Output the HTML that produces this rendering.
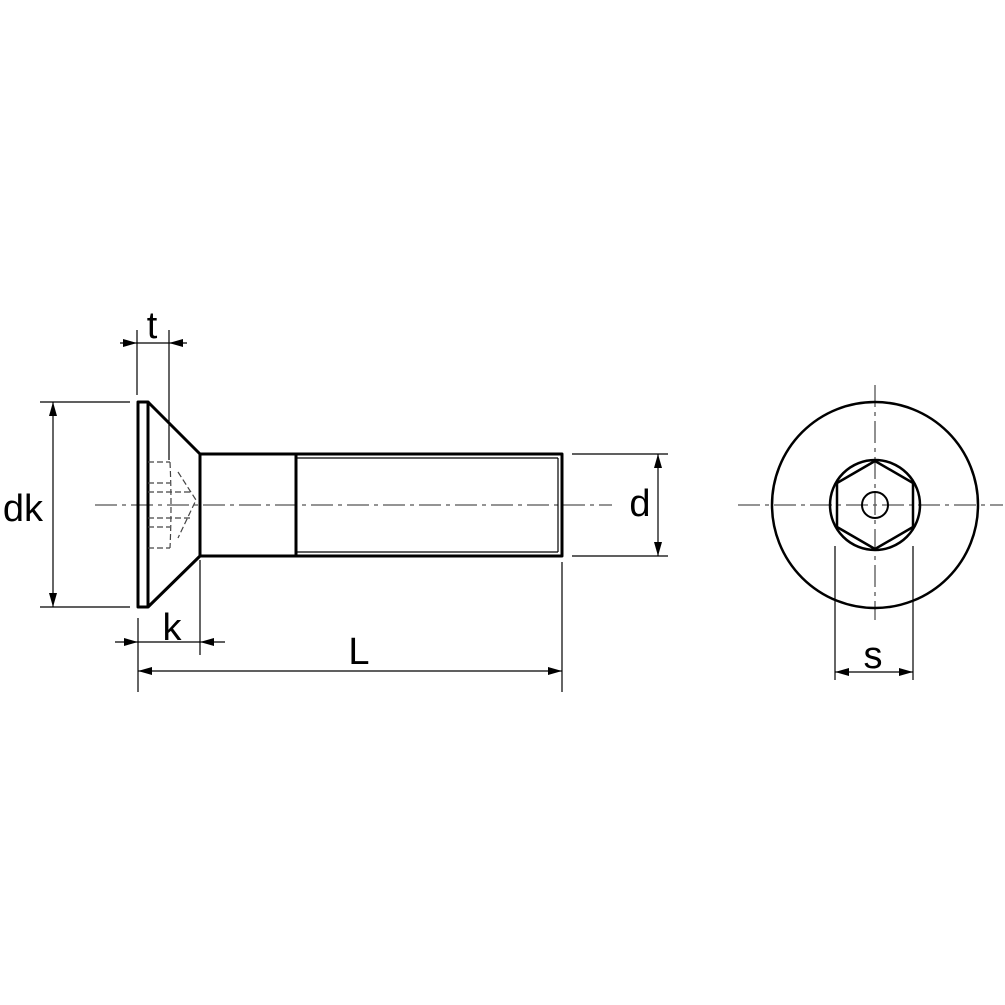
<!DOCTYPE html>
<html><head><style>body{margin:0;background:#fff}svg{display:block}</style></head><body>
<svg width="1005" height="1005" viewBox="0 0 1005 1005" xmlns="http://www.w3.org/2000/svg" font-family="Liberation Sans, sans-serif">
<defs><marker id="a" markerWidth="14" markerHeight="8" refX="14" refY="4" orient="auto" markerUnits="userSpaceOnUse"><path d="M0,0 L14,4 L0,8 Z" fill="#000"/></marker></defs>
<rect width="1005" height="1005" fill="#fff"/>
<g stroke="#555" stroke-width="1.3" fill="none" stroke-dasharray="22,5,4,5">
<line x1="95" y1="505" x2="612" y2="505"/>
<line x1="738" y1="505" x2="1003" y2="505"/>
<line x1="875" y1="385" x2="875" y2="620"/>
</g>
<g stroke="#000" stroke-width="3" fill="none" stroke-linejoin="round">
<rect x="138" y="402" width="10" height="205"/>
<path d="M148,402 L200,454 L200,556 L148,607"/>
<path d="M200,454 L562,454 L562,556 L200,556"/>
<line x1="296" y1="454" x2="296" y2="556"/>
<circle cx="875" cy="505" r="103" stroke-width="2.5"/>
<circle cx="875" cy="505" r="45" stroke-width="2.5"/>
<polygon points="875,461 913,483 913,527 875,549 837,527 837,483" stroke-width="2.5"/>
<circle cx="875" cy="505" r="13" stroke-width="2"/>
</g>
<g stroke="#000" stroke-width="1.2" fill="none">
<line x1="296" y1="458" x2="558" y2="458"/><line x1="296" y1="552" x2="558" y2="552"/>
<line x1="558" y1="458" x2="558" y2="552"/>
</g>
<g stroke="#444" stroke-width="1.2" fill="none" stroke-dasharray="6,3">
<line x1="148" y1="462" x2="170" y2="462"/><line x1="148" y1="483" x2="170" y2="483"/>
<line x1="148" y1="492" x2="190" y2="492"/><line x1="148" y1="518" x2="190" y2="518"/>
<line x1="148" y1="527" x2="170" y2="527"/><line x1="148" y1="548" x2="170" y2="548"/>
<path d="M170,462 Q172,505 170,548"/>
<path d="M178,472 L196,500 L178,538"/>
</g>
<g stroke="#000" stroke-width="1.2" fill="none">
<line x1="137" y1="330" x2="137" y2="395"/><line x1="169" y1="330" x2="169" y2="460"/>
<line x1="120" y1="343" x2="137" y2="343" marker-end="url(#a)"/><line x1="187" y1="343" x2="169" y2="343" marker-end="url(#a)"/>
<line x1="137" y1="343" x2="169" y2="343"/>
<line x1="138" y1="618" x2="138" y2="692"/><line x1="200" y1="560" x2="200" y2="655"/>
<line x1="115" y1="642" x2="138" y2="642" marker-end="url(#a)"/><line x1="225" y1="642" x2="200" y2="642" marker-end="url(#a)"/>
<line x1="138" y1="642" x2="200" y2="642"/>
<line x1="40" y1="402" x2="130" y2="402"/><line x1="40" y1="607" x2="130" y2="607"/>
<line x1="53" y1="505" x2="53" y2="402" marker-end="url(#a)"/><line x1="53" y1="505" x2="53" y2="607" marker-end="url(#a)"/>
<line x1="572" y1="454" x2="668" y2="454"/><line x1="572" y1="556" x2="668" y2="556"/>
<line x1="658" y1="505" x2="658" y2="454" marker-end="url(#a)"/><line x1="658" y1="505" x2="658" y2="556" marker-end="url(#a)"/>
<line x1="562" y1="562" x2="562" y2="692"/>
<line x1="350" y1="671" x2="138" y2="671" marker-end="url(#a)"/><line x1="350" y1="671" x2="562" y2="671" marker-end="url(#a)"/>
<line x1="835" y1="546" x2="835" y2="680"/><line x1="913" y1="546" x2="913" y2="680"/>
<line x1="874" y1="672" x2="835" y2="672" marker-end="url(#a)"/><line x1="874" y1="672" x2="913" y2="672" marker-end="url(#a)"/>
</g>
<g font-size="38" fill="#000" text-anchor="middle">
<text x="152" y="338">t</text>
<text x="23" y="521">dk</text>
<text x="172" y="640">k</text>
<text x="359" y="664">L</text>
<text x="640" y="516">d</text>
<text x="873" y="668">s</text>
</g>
</svg>
</body></html>
